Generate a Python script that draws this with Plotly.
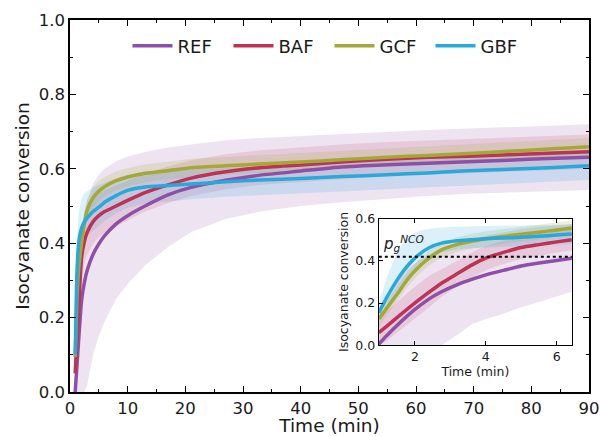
import plotly.graph_objects as go

# ---------------- main chart data ----------------
t = [0.9, 1.2, 1.5, 2, 2.5, 3, 4, 5, 6, 8, 10, 13, 17, 21, 27, 33, 40, 47, 55, 62, 69, 76, 83, 90]

ref_mean = [0.0, 0.07, 0.14, 0.245, 0.295, 0.328, 0.37, 0.398, 0.42, 0.452, 0.474, 0.50, 0.53, 0.55, 0.569, 0.583, 0.594, 0.605, 0.611, 0.615, 0.619, 0.623, 0.628, 0.631]
ref_hi = [0.05, 0.2, 0.3, 0.42, 0.48, 0.515, 0.56, 0.585, 0.6, 0.62, 0.633, 0.645, 0.657, 0.665, 0.677, 0.683, 0.688, 0.695, 0.7, 0.704, 0.708, 0.712, 0.716, 0.72]
ref_lo = [0, 0, 0, 0, 0, 0.02, 0.10, 0.15, 0.19, 0.25, 0.29, 0.34, 0.39, 0.43, 0.465, 0.485, 0.5, 0.51, 0.52, 0.527, 0.533, 0.537, 0.54, 0.543]

baf_mean = [0.05, 0.14, 0.229, 0.36, 0.405, 0.43, 0.458, 0.474, 0.485, 0.50, 0.515, 0.536, 0.557, 0.575, 0.592, 0.603, 0.61, 0.618, 0.626, 0.631, 0.634, 0.638, 0.642, 0.646]
baf_hi = [0.09, 0.2, 0.29, 0.42, 0.465, 0.49, 0.518, 0.532, 0.542, 0.555, 0.568, 0.587, 0.606, 0.623, 0.639, 0.65, 0.657, 0.665, 0.672, 0.677, 0.68, 0.684, 0.688, 0.692]
baf_lo = [0.01, 0.08, 0.17, 0.3, 0.345, 0.37, 0.398, 0.416, 0.428, 0.445, 0.462, 0.485, 0.508, 0.527, 0.545, 0.557, 0.564, 0.572, 0.58, 0.585, 0.588, 0.592, 0.596, 0.6]

gcf_mean = [0.094, 0.25, 0.33, 0.40, 0.455, 0.49, 0.522, 0.54, 0.552, 0.568, 0.578, 0.588, 0.595, 0.603, 0.608, 0.613, 0.618, 0.624, 0.631, 0.636, 0.641, 0.647, 0.653, 0.659]
gcf_hi = [0.12, 0.29, 0.37, 0.44, 0.49, 0.52, 0.55, 0.567, 0.578, 0.593, 0.602, 0.612, 0.619, 0.627, 0.632, 0.637, 0.642, 0.648, 0.655, 0.66, 0.665, 0.671, 0.677, 0.683]
gcf_lo = [0.07, 0.21, 0.29, 0.36, 0.42, 0.46, 0.494, 0.513, 0.526, 0.543, 0.554, 0.564, 0.571, 0.579, 0.584, 0.589, 0.594, 0.6, 0.607, 0.612, 0.617, 0.623, 0.629, 0.635]

gbf_mean = [0.10, 0.32, 0.40, 0.44, 0.458, 0.468, 0.485, 0.497, 0.51, 0.528, 0.542, 0.551, 0.555, 0.559, 0.565, 0.57, 0.574, 0.579, 0.584, 0.589, 0.595, 0.599, 0.603, 0.608]
gbf_hi = [0.14, 0.40, 0.48, 0.52, 0.535, 0.54, 0.55, 0.556, 0.563, 0.574, 0.584, 0.591, 0.594, 0.598, 0.603, 0.608, 0.612, 0.617, 0.622, 0.627, 0.633, 0.637, 0.641, 0.646]
gbf_lo = [0.06, 0.26, 0.34, 0.39, 0.41, 0.42, 0.435, 0.447, 0.46, 0.48, 0.495, 0.507, 0.513, 0.518, 0.525, 0.53, 0.535, 0.54, 0.545, 0.55, 0.556, 0.56, 0.565, 0.57]

# ---------------- inset data ----------------
ti = [0.98, 1.2, 1.5, 1.8, 2.1, 2.4, 2.75, 3.2, 3.6, 4.0, 4.5, 5.0, 5.5, 6.0, 6.43]

ref_in = [0.005, 0.045, 0.095, 0.142, 0.183, 0.22, 0.254, 0.288, 0.312, 0.334, 0.355, 0.376, 0.39, 0.402, 0.413]
ref_in_hi = [0.1, 0.2, 0.3, 0.36, 0.4, 0.43, 0.46, 0.48, 0.5, 0.52, 0.535, 0.55, 0.56, 0.568, 0.575]
ref_in_lo = [0, 0, 0, 0, 0, 0, 0, 0.05, 0.10, 0.125, 0.15, 0.18, 0.205, 0.23, 0.254]

baf_in = [0.06, 0.09, 0.132, 0.174, 0.214, 0.252, 0.294, 0.34, 0.38, 0.413, 0.44, 0.463, 0.477, 0.49, 0.50]
baf_in_hi = [0.12, 0.16, 0.205, 0.25, 0.29, 0.33, 0.36, 0.40, 0.44, 0.47, 0.495, 0.515, 0.53, 0.54, 0.55]
baf_in_lo = [0.0, 0.02, 0.06, 0.1, 0.14, 0.18, 0.23, 0.28, 0.32, 0.355, 0.385, 0.41, 0.425, 0.44, 0.45]

gcf_in = [0.125, 0.175, 0.243, 0.315, 0.37, 0.413, 0.452, 0.478, 0.493, 0.505, 0.516, 0.526, 0.536, 0.546, 0.556]
gcf_in_hi = [0.16, 0.21, 0.28, 0.35, 0.405, 0.448, 0.487, 0.513, 0.528, 0.54, 0.551, 0.561, 0.571, 0.581, 0.591]
gcf_in_lo = [0.09, 0.14, 0.208, 0.28, 0.335, 0.378, 0.417, 0.443, 0.458, 0.47, 0.481, 0.491, 0.501, 0.511, 0.521]

gbf_in = [0.155, 0.225, 0.31, 0.378, 0.428, 0.462, 0.484, 0.495, 0.50, 0.505, 0.508, 0.512, 0.517, 0.522, 0.527]
gbf_in_hi = [0.2, 0.32, 0.44, 0.515, 0.54, 0.552, 0.558, 0.562, 0.564, 0.565, 0.566, 0.568, 0.569, 0.571, 0.572]
gbf_in_lo = [0.11, 0.16, 0.24, 0.31, 0.36, 0.41, 0.44, 0.455, 0.46, 0.465, 0.467, 0.47, 0.473, 0.477, 0.48]

gel_point = [0.42, 0.42]
gel_x = [0.98, 6.43]

labels = ["REF", "BAF", "GCF", "GBF"]
colors = ["#8E4FA6", "#BE3253", "#A3A936", "#27A9DB"]
fills = ["rgba(142,79,166,0.16)", "rgba(190,50,83,0.14)", "rgba(163,169,54,0.18)", "rgba(39,169,219,0.17)"]

main_sets = [(ref_mean, ref_lo, ref_hi), (baf_mean, baf_lo, baf_hi),
             (gcf_mean, gcf_lo, gcf_hi), (gbf_mean, gbf_lo, gbf_hi)]
inset_sets = [(ref_in, ref_in_lo, ref_in_hi), (baf_in, baf_in_lo, baf_in_hi),
              (gcf_in, gcf_in_lo, gcf_in_hi), (gbf_in, gbf_in_lo, gbf_in_hi)]

FONT = "DejaVu Sans"
TXT = "#1a1a1a"
fig = go.Figure()

def add_group(tt, sets, xa, ya, legend):
    for (m, lo, hi), c, f in zip(sets, colors, fills):
        fig.add_trace(go.Scatter(x=list(tt) + list(tt)[::-1], y=list(hi) + list(lo)[::-1],
                                 fill="toself", fillcolor=f, line=dict(width=0),
                                 mode="lines", showlegend=False, hoverinfo="skip",
                                 xaxis=xa, yaxis=ya))
    for (m, lo, hi), c, name in zip(sets, colors, labels):
        fig.add_trace(go.Scatter(x=tt, y=m, mode="lines", name=name,
                                 line=dict(color=c, width=3.5, shape="spline", smoothing=0.5),
                                 showlegend=legend, xaxis=xa, yaxis=ya))

add_group(t, main_sets, "x", "y", True)
add_group(ti, inset_sets, "x2", "y2", False)

fig.add_trace(go.Scatter(x=gel_x, y=gel_point, mode="lines",
                         line=dict(color="black", width=2, dash="dot"),
                         showlegend=False, xaxis="x2", yaxis="y2"))

axis_common = dict(showline=True, linecolor="black", linewidth=1.5, ticks="inside",
                   tickcolor="black", tickwidth=1.3, ticklen=6, showgrid=False,
                   zeroline=False, mirror="ticks", automargin=False,
                   tickfont=dict(family=FONT, size=16.5, color=TXT))

fig.update_layout(
    width=600, height=436,
    margin=dict(l=70, r=11, t=20, b=44),
    paper_bgcolor="white", plot_bgcolor="white",
    font=dict(family=FONT, color=TXT),
    xaxis=dict(range=[0, 90], dtick=10, tick0=0,
               minor=dict(ticks="inside", ticklen=3.5, dtick=5, tickcolor="black", tickwidth=1.2),
               title=dict(text="Time (min)", font=dict(family=FONT, size=18.5), standoff=2),
               **axis_common),
    yaxis=dict(range=[0, 1], dtick=0.2, tick0=0, tickformat=".1f",
               minor=dict(ticks="inside", ticklen=3.5, dtick=0.1, tickcolor="black", tickwidth=1.2),
               title=dict(text="Isocyanate conversion", font=dict(family=FONT, size=18.5), standoff=4),
               **axis_common),
    xaxis2=dict(domain=[0.595, 0.967], anchor="y2", range=[0.98, 6.43], tickvals=[2, 4, 6],
                showline=True, linecolor="black", linewidth=1.2, ticks="inside", ticklen=4,
                tickcolor="black", mirror="ticks", showgrid=False, zeroline=False, automargin=False,
                tickfont=dict(family=FONT, size=12.5, color=TXT),
                title=dict(text="Time (min)", font=dict(family=FONT, size=12.5), standoff=2)),
    yaxis2=dict(domain=[0.1255, 0.466], anchor="x2", range=[0, 0.6], dtick=0.2, tickformat=".1f",
                showline=True, linecolor="black", linewidth=1.2, ticks="inside", ticklen=4,
                tickcolor="black", mirror=True, showgrid=False, zeroline=False, automargin=False,
                tickfont=dict(family=FONT, size=12.5, color=TXT),
                title=dict(text="Isocyanate conversion", font=dict(family=FONT, size=12.5), standoff=3)),
    legend=dict(orientation="h", x=0.5, xanchor="center", y=0.93, yanchor="middle",
                font=dict(family=FONT, size=18, color=TXT), bgcolor="rgba(0,0,0,0)",
                itemwidth=40, entrywidth=46, entrywidthmode="pixels"),
    annotations=[dict(x=1.05, y=0.425, xref="x2", yref="y2", xanchor="left", yanchor="bottom",
                      text="<i>p</i><sub><i>g</i></sub><sup><i>NCO</i></sup>", showarrow=False,
                      font=dict(family=FONT, size=15, color=TXT))],
)

fig.write_html("out.html", config={"displayModeBar": False},
               post_script="document.body.style.margin='0px';")
